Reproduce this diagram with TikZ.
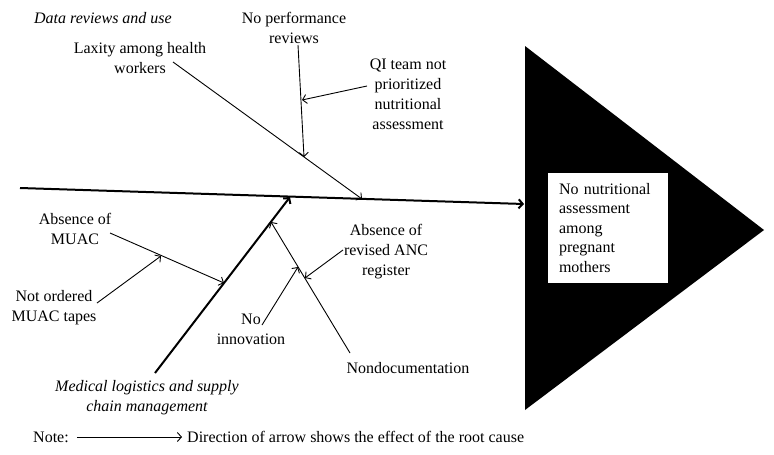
\documentclass[tikz,border=0pt]{standalone}
\usepackage{fontspec}
\setmainfont{Liberation Serif}
\usetikzlibrary{arrows.meta}

\begin{document}
\begin{tikzpicture}[x=1pt, y=-1pt,
  lbl/.style={align=center, inner sep=0pt, font=\fontsize{16}{20}\selectfont},
  cat/.style={lbl, font=\fontsize{16}{20}\selectfont\itshape},
  bone/.style={draw=black, line width=0.9pt, -{Straight Barb[length=4pt,width=9pt]}},
  spine/.style={bone, line width=2pt}]

% fishbone, black and white only
  \useasboundingbox (0,0) rectangle (774,455);

  % head of the fish
  \coordinate (head-top) at (525,46);
  \coordinate (head-bot) at (525,410);
  \coordinate (head-tip) at (764,230);
  \path[fill=black] (head-top) -- (head-bot) -- (head-tip) -- cycle;
  \node[fill=white, inner xsep=11pt, text width=98pt, minimum height=110pt, align=left,
        font=\fontsize{16}{19.5}\selectfont] (effect) at (608,228)
        {No nutritional\\assessment\\among\\pregnant\\mothers};

  % category labels
  \node[cat] (data) at (103,18) {Data reviews and use};
  \node[cat] (medical) at (147,398) {Medical logistics and supply\\chain management};

  % causes
  \node[lbl] (perf) at (294,28) {No performance\\reviews};
  \node[lbl] (laxity) at (140,58) {Laxity among health\\workers};
  \node[lbl] (qi) at (408,94) {QI team not\\prioritized\\nutritional\\assessment};
  \node[lbl] (muac) at (75,229) {Absence of\\MUAC};
  \node[lbl] (tapes) at (54,308) {Not ordered\\MUAC tapes};
  \node[lbl] (anc) at (386,252) {Absence of\\revised ANC\\register};
  \node[lbl] (innov) at (251,329) {No\\innovation};
  \node[lbl] (nondoc) at (408,368) {Nondocumentation};

  % end points of the bones
  \coordinate (tail) at (20,188);
  \coordinate (spine-end) at (524,204);
  \coordinate (lax-a) at (173,62);
  \coordinate (lax-b) at (362,199);
  \coordinate (perf-a) at (298,45);
  \coordinate (perf-b) at (304,157);
  \coordinate (qi-a) at (367,86);
  \coordinate (qi-b) at (302,100);
  \coordinate (med-a) at (155,373);
  \coordinate (med-b) at (290,197);
  \coordinate (muac-a) at (110,233);
  \coordinate (muac-b) at (224,283);
  \coordinate (tapes-a) at (97,303);
  \coordinate (tapes-b) at (161,256);
  \coordinate (doc-a) at (350,353);
  \coordinate (doc-b) at (271,222);
  \coordinate (innov-a) at (262,325);
  \coordinate (innov-b) at (298,267);
  \coordinate (anc-a) at (343,250);
  \coordinate (anc-b) at (305,278);

  \draw[spine] (tail) -- (spine-end);
  \draw[bone] (lax-a) -- (lax-b);
  \draw[bone] (perf-a) -- (perf-b);
  \draw[bone] (qi-a) -- (qi-b);
  \draw[spine] (med-a) -- (med-b);
  \draw[bone] (muac-a) -- (muac-b);
  \draw[bone] (tapes-a) -- (tapes-b);
  \draw[bone] (doc-a) -- (doc-b);
  \draw[bone] (innov-a) -- (innov-b);
  \draw[bone] (anc-a) -- (anc-b);

  % note
  \node[lbl, anchor=west] (note) at (33,437) {Note:};
  \node[lbl, anchor=west] (notetext) at (187,437) {Direction of arrow shows the effect of the root cause};
  \draw[bone] ([xshift=8pt]note.east) -- ([xshift=-5pt]notetext.west);
\end{tikzpicture}
\end{document}
